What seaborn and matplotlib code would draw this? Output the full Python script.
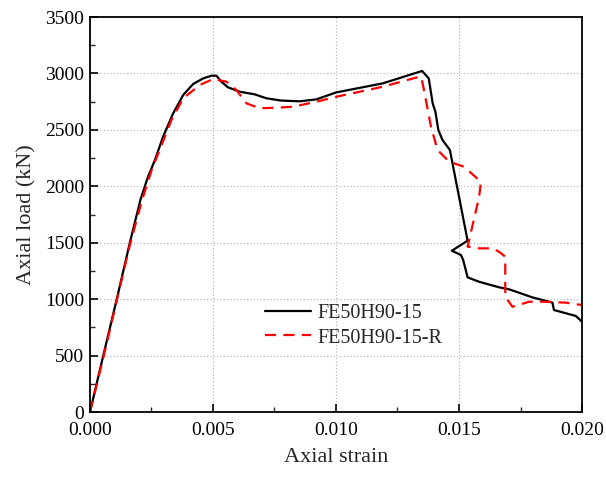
import matplotlib
matplotlib.use("Agg")
import matplotlib.pyplot as plt
import seaborn as sns
import pandas as pd
from matplotlib.ticker import MultipleLocator

# Data
black_strain = [0.0, 0.00054, 0.00108, 0.00162, 0.00205, 0.00235, 0.00264, 0.00297, 0.00338, 0.00379, 0.00419,
                0.0046, 0.00494, 0.00514, 0.00534, 0.00561, 0.00609, 0.00669, 0.00717, 0.00775,
                0.00852, 0.0092, 0.01001, 0.0119, 0.0135,
                0.01377, 0.01393, 0.01404, 0.01416, 0.01433, 0.01458, 0.01463, 0.01535,
                0.01471, 0.01508, 0.01517, 0.01535, 0.01582, 0.01663, 0.01704, 0.01798,
                0.0188, 0.01886, 0.01975, 0.0200]
black_load = [0, 500, 992, 1500, 1880, 2080, 2233, 2439, 2646, 2809, 2906,
              2956, 2980, 2980, 2927, 2877, 2838, 2815, 2780, 2760,
              2753, 2770, 2832, 2912, 3022,
              2956, 2735, 2661, 2499, 2410, 2336, 2321, 1518,
              1429, 1391, 1347, 1193, 1154, 1105, 1087, 1016,
              969, 904, 851, 800]

red_strain = [0.0, 0.00054, 0.00108, 0.00162, 0.00212, 0.00250, 0.00291, 0.00331, 0.00379, 0.00446, 0.0050,
              0.00555, 0.00595, 0.00636, 0.0069, 0.0077, 0.00825, 0.0092, 0.0100, 0.0119, 0.01339,
              0.01346, 0.01355, 0.01386, 0.01413, 0.0146, 0.01521, 0.01589, 0.01582, 0.01535,
              0.01582, 0.01636, 0.01663, 0.01688, 0.01688, 0.01717, 0.01785, 0.01853,
              0.01934, 0.0200]
red_load = [0, 480, 980, 1480, 1880, 2140, 2366, 2587, 2780, 2897, 2950,
            2927, 2853, 2735, 2691, 2698, 2705, 2749, 2793, 2882, 2971,
            2971, 2882, 2528, 2321, 2218, 2173, 2040, 1908, 1465,
            1450, 1450, 1420, 1376, 1022, 933, 977, 977,
            969, 948]

series_names = ["FE50H90-15", "FE50H90-15-R"]
x_ticks = [0.000, 0.005, 0.010, 0.015, 0.020]
y_ticks = [0, 500, 1000, 1500, 2000, 2500, 3000, 3500]

sns.set_theme(style="white")
plt.rcParams["font.family"] = ["Liberation Serif", "DejaVu Serif"]
plt.rcParams["mathtext.fontset"] = "stix"

fig = plt.figure(figsize=(6.06, 4.82), dpi=100)
ax = fig.add_axes([0.1485, 0.1452, 0.8119, 0.8195])

df_b = pd.DataFrame({"strain": black_strain, "load": black_load})
df_r = pd.DataFrame({"strain": red_strain, "load": red_load})

sns.lineplot(data=df_b, x="strain", y="load", sort=False, estimator=None, ax=ax,
             color="black", linewidth=1.6, label=series_names[0])
sns.lineplot(data=df_r, x="strain", y="load", sort=False, estimator=None, ax=ax,
             color="#ff0000", linewidth=1.6, label=series_names[1])
ax.lines[1].set_dashes((5, 3.3))

ax.set_xlim(0, 0.020)
ax.set_ylim(0, 3500)
ax.set_xticks(x_ticks)
ax.set_yticks(y_ticks)
ax.set_xticklabels([f"{v:.3f}" for v in x_ticks])
ax.set_yticklabels([str(v) for v in y_ticks])
ax.xaxis.set_minor_locator(MultipleLocator(0.0025))
ax.yaxis.set_minor_locator(MultipleLocator(250))
ax.tick_params(which="major", direction="in", length=6, width=1.2, labelsize=14,
               left=True, bottom=True, top=False, right=False, colors="black")
ax.tick_params(axis="x", which="major", pad=7)
ax.tick_params(axis="y", which="major", pad=4)
ax.tick_params(which="minor", direction="in", length=3.5, width=1.0,
               left=True, bottom=True, top=False, right=False)
ax.grid(True, which="major", linestyle=(0, (1, 2)), color="#b0b0b0", linewidth=0.8)

for s in ax.spines.values():
    s.set_visible(True)
    s.set_color("black")
    s.set_linewidth(1.3)

ax.set_xlabel("Axial strain", fontsize=16, labelpad=7)
ax.set_ylabel("Axial load (kN)", fontsize=16, labelpad=6)

leg = ax.legend(loc="center left", bbox_to_anchor=(0.356, 0.218), frameon=False,
                fontsize=14.5, handlelength=2.3, handletextpad=0.3, labelspacing=0.25,
                borderpad=0, borderaxespad=0)

fig.savefig("out.png", dpi=100)
